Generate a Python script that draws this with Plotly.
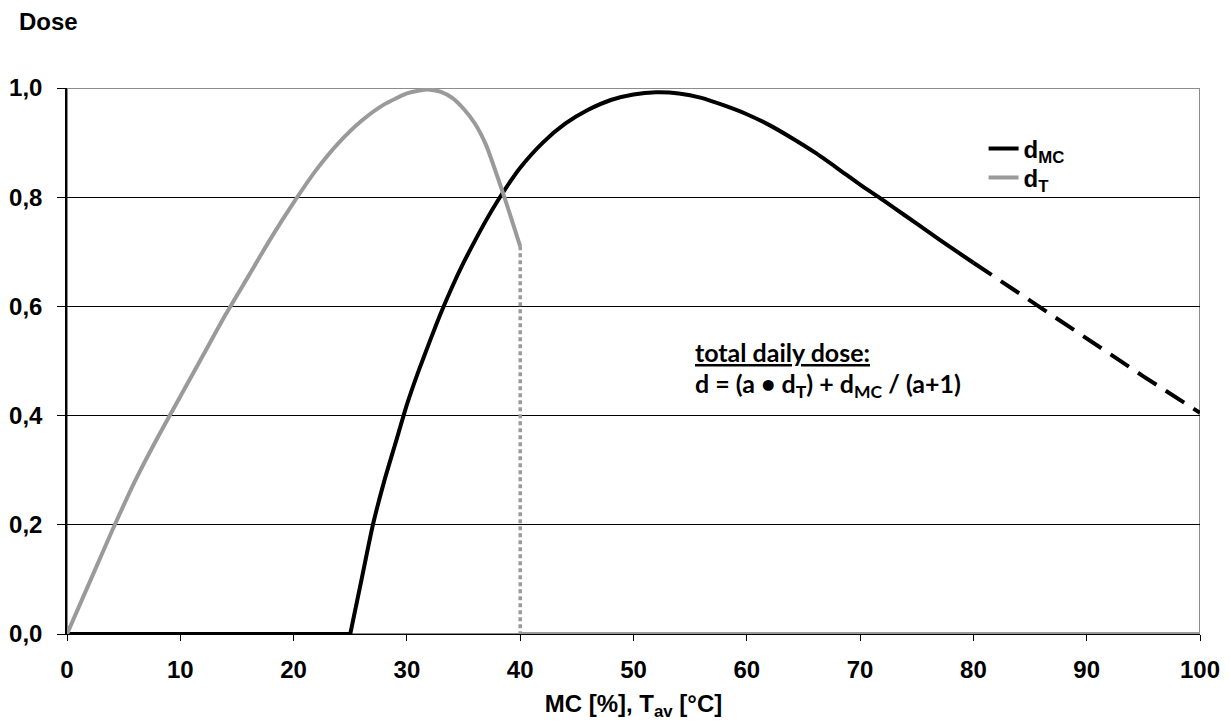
import plotly.graph_objects as go

# d_T (grey) curve, 0..40
dT_x = [0, 2, 4, 6, 8, 10, 12, 14, 16, 18, 20, 22, 24, 26, 28, 30, 31, 32, 33, 34, 35, 36, 37, 38, 39, 40]
dT_y = [0.0, 0.095, 0.19, 0.28, 0.36, 0.435, 0.51, 0.585, 0.655, 0.725, 0.79, 0.85, 0.90, 0.94, 0.97,
        0.99, 0.995, 0.997, 0.993, 0.982, 0.962, 0.935, 0.895, 0.837, 0.775, 0.71]
dT_drop_x = [40, 40]
dT_drop_y = [0.71, 0.0]
dT_zero_x = [40, 100]
dT_zero_y = [0.0, 0.0]

# d_MC (black) curve
dMC_zero_x = [0, 25]
dMC_zero_y = [0.0, 0.0]
dMC_x = [25, 26, 27, 28, 29, 30, 31, 32, 33, 34, 35, 36, 37, 38, 39, 40, 42, 44, 46, 48, 50, 52, 54, 56,
         58, 60, 62, 64, 66, 68, 70, 72, 74, 76, 78, 80]
dMC_y = [0.0, 0.10, 0.20, 0.28, 0.35, 0.42, 0.48, 0.535, 0.588, 0.636, 0.68, 0.72, 0.758, 0.793, 0.825,
         0.854, 0.90, 0.935, 0.96, 0.978, 0.988, 0.992, 0.99, 0.982, 0.968, 0.952, 0.932, 0.908, 0.882,
         0.853, 0.823, 0.795, 0.766, 0.737, 0.708, 0.68]
dMC_ext_x = [80, 85, 90, 95, 100]
dMC_ext_y = [0.68, 0.61, 0.54, 0.472, 0.405]

x_ticks = [0, 10, 20, 30, 40, 50, 60, 70, 80, 90, 100]
y_ticks = [0.0, 0.2, 0.4, 0.6, 0.8, 1.0]

GREY = "#9a9a9a"
BLACK = "#000000"
FONT = "Liberation Sans, Arial, sans-serif"
NOTE_FONT = "Lato, Carlito, sans-serif"

fig = go.Figure()

fig.add_trace(go.Scatter(x=dT_zero_x, y=dT_zero_y, mode="lines", line=dict(color=GREY, width=4),
                         showlegend=False, cliponaxis=False, hoverinfo="skip"))
fig.add_trace(go.Scatter(x=dT_drop_x, y=dT_drop_y, mode="lines", line=dict(color=GREY, width=3.5, dash="4px,3px"),
                         showlegend=False, cliponaxis=False, hoverinfo="skip"))
fig.add_trace(go.Scatter(x=dMC_zero_x, y=dMC_zero_y, mode="lines", line=dict(color=BLACK, width=4),
                         showlegend=False, cliponaxis=False, hoverinfo="skip"))
fig.add_trace(go.Scatter(x=dMC_x, y=dMC_y, mode="lines", line=dict(color=BLACK, width=4, shape="spline", smoothing=0.6),
                         name="<b>d<sub>MC</sub></b>", cliponaxis=False, legend="legend"))
fig.add_trace(go.Scatter(x=dMC_ext_x, y=dMC_ext_y, mode="lines", line=dict(color=BLACK, width=4, dash="22px,11px"),
                         showlegend=False, cliponaxis=False, hoverinfo="skip"))
fig.add_trace(go.Scatter(x=dT_x, y=dT_y, mode="lines", line=dict(color=GREY, width=4, shape="spline", smoothing=0.6),
                         name="<b>d<sub>T</sub></b>", cliponaxis=False, legend="legend2"))

# plot border (grey)
fig.add_shape(type="rect", xref="x", yref="y", x0=0, x1=100, y0=0, y1=1.0,
              line=dict(color="#8c8c8c", width=2), layer="below")

fig.add_annotation(x=0.5525, y=0.5165, xref="paper", yref="paper", xanchor="left", yanchor="middle",
                   text="<u><b>total daily dose:</b></u>", showarrow=False, align="left",
                   font=dict(family=NOTE_FONT, size=25, color="black"))
fig.add_annotation(x=0.5525, y=0.456, xref="paper", yref="paper", xanchor="left", yanchor="middle",
                   text="<b>d = (a \u2022 d<sub>T</sub>) + d<sub>MC</sub> / (a+1)</b>", showarrow=False, align="left",
                   font=dict(family=NOTE_FONT, size=25, color="black"))
fig.add_annotation(x=-0.0441, y=1.121, xref="paper", yref="paper", showarrow=False,
                   text="<b>Dose</b>", xanchor="left", yanchor="middle",
                   font=dict(family=FONT, size=24, color="black"))

leg_common = dict(xanchor="left", yanchor="middle", bgcolor="rgba(0,0,0,0)",
                  font=dict(family=FONT, size=24, color="black"), tracegroupgap=0)

fig.update_layout(
    width=1230, height=726,
    margin=dict(l=67, r=30, t=88, b=92, autoexpand=False),
    paper_bgcolor="white", plot_bgcolor="white",
    font=dict(family=FONT, size=24, color="black"),
    showlegend=True,
    legend=dict(x=0.809, y=(634 - 149) / 546, **leg_common),
    legend2=dict(x=0.809, y=(634 - 178) / 546, **leg_common),
    xaxis=dict(range=[0, 100], tickvals=x_ticks, ticktext=[f"<b>{v}</b>" for v in x_ticks],
               showgrid=False, zeroline=False, showline=True, linecolor="black", linewidth=1,
               ticks="outside", ticklen=6, tickcolor="black", ticklabelstandoff=8, automargin=False,
               title=dict(text="<b>MC [%], T<sub>av</sub> [°C]</b>", standoff=13, font=dict(size=24)),
               tickfont=dict(size=24)),
    yaxis=dict(range=[0, 1.0], tickvals=y_ticks, ticktext=[f"<b>{v:.1f}</b>".replace(".", ",") for v in y_ticks],
               showgrid=True, gridcolor="black", gridwidth=1, zeroline=False, automargin=False,
               showline=True, linecolor="black", linewidth=1.5, ticklabelstandoff=10,
               ticks="outside", ticklen=8, tickcolor="black", tickfont=dict(size=24)),
)

fig.write_html("out.html")
